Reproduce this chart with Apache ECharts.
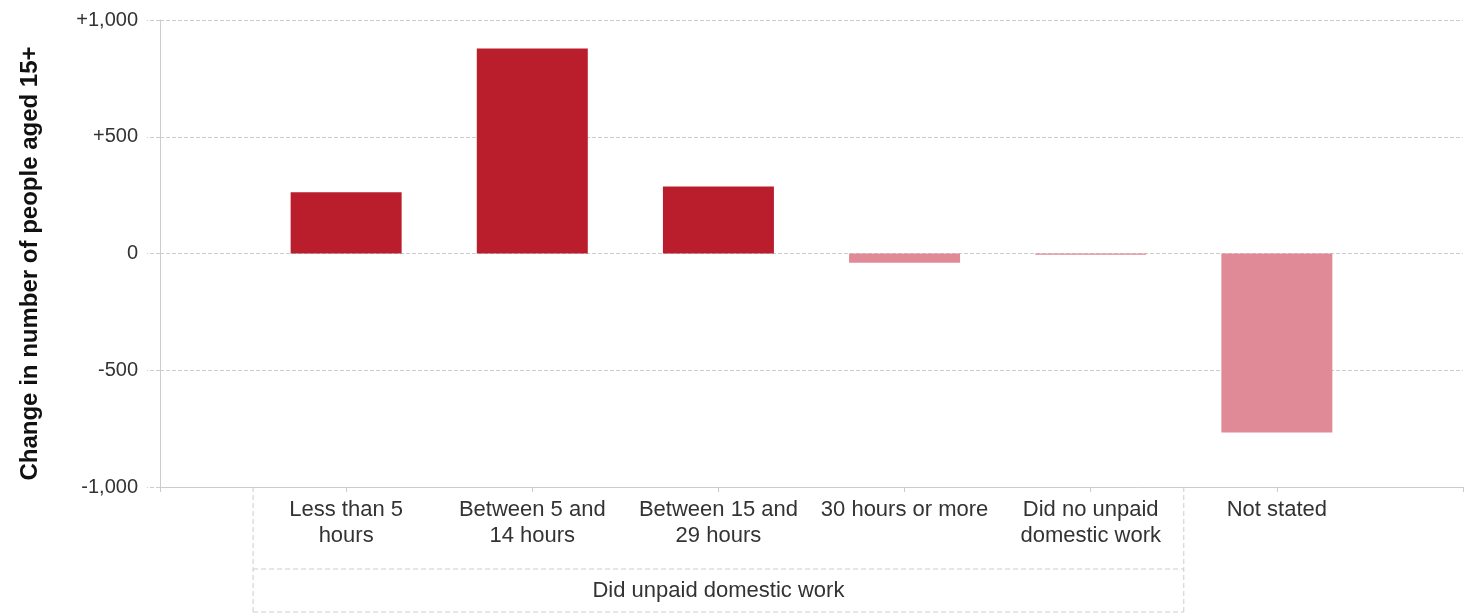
<!DOCTYPE html>
<html>
<head>
<meta charset="UTF-8"/>
<title>Change in unpaid domestic work</title>
<script src="https://cdn.jsdelivr.net/npm/echarts@6/dist/echarts.min.js"></script>
<style>
html,body{margin:0;padding:0;background:#fff;}
#placeholder{width:1470px;height:614px;}
</style>
</head>
<body>
<div id="placeholder"></div>
<script type="text/javascript">
// categories and values
var categories = ['Less than 5\nhours', 'Between 5 and\n14 hours', 'Between 15 and\n29 hours', '30 hours or more', 'Did no unpaid\ndomestic work', 'Not stated'];
var values = [262, 878, 287, -40, -5, -767];
var groupLabel = 'Did unpaid domestic work';
var groupSpan = [0, 4]; // first and last category inside the group box
var yTicks = [-1000, -500, 0, 500, 1000];

// pad one empty slot each side so bars sit on the inner ticks
var xdata = [''].concat(categories).concat(['']);
var ydata = [null].concat(values).concat([null]);

var font = 'Arial, "Liberation Sans", sans-serif';
var myChart = echarts.init(document.getElementById('placeholder'));

var option = {
    animation: false,
    textStyle: { fontFamily: font },
    grid: { left: 160, right: 7, top: 20, bottom: 127 },
    xAxis: {
        type: 'category',
        boundaryGap: false,
        data: xdata,
        axisLine: { onZero: false, lineStyle: { color: '#cccccc', width: 1 } },
        axisTick: { length: 5, lineStyle: { color: '#cccccc' } },
        axisLabel: { interval: 0, fontSize: 22, lineHeight: 26, color: '#333', margin: 10, fontFamily: font },
        splitLine: { show: false }
    },
    yAxis: {
        type: 'value',
        min: yTicks[0],
        max: yTicks[yTicks.length - 1],
        interval: 500,
        name: 'Change in number of people aged 15+',
        nameLocation: 'middle',
        nameGap: 118,
        nameTextStyle: { fontSize: 24, fontWeight: 'bold', color: '#111', fontFamily: font, padding: [0, 20, 0, 0] },
        axisLine: { show: true, lineStyle: { color: '#cccccc' } },
        axisTick: { show: true, length: 13, lineStyle: { color: '#cccccc', type: 'dashed' } },
        axisLabel: {
            fontSize: 20, color: '#333', margin: 22, fontFamily: font,
            formatter: function (v) {
                var s = Math.abs(v).toLocaleString('en-US');
                return v > 0 ? '+' + s : (v < 0 ? '-' + s : '0');
            }
        },
        splitLine: { lineStyle: { color: '#cccccc', type: 'dashed' } }
    },
    series: [{
        type: 'bar',
        data: ydata,
        barWidth: 111,
        itemStyle: {
            color: function (p) { return p.value >= 0 ? '#ba1e2d' : '#e08997'; }
        }
    }]
};
myChart.setOption(option, true);

// group box under the category labels
var a = myChart.convertToPixel({ xAxisIndex: 0 }, groupSpan[0] + 1);
var b = myChart.convertToPixel({ xAxisIndex: 0 }, groupSpan[0] + 2);
var step = b - a;
var x0 = a - step / 2;
var x1 = myChart.convertToPixel({ xAxisIndex: 0 }, groupSpan[1] + 1) + step / 2;
var yAxisPx = myChart.convertToPixel({ yAxisIndex: 0 }, yTicks[0]);
var yMid = yAxisPx + 82, yBot = 612;
var dash = { stroke: '#cccccc', lineWidth: 1, lineDash: [5, 3] };
myChart.setOption({
    graphic: [
        { type: 'line', shape: { x1: x0, y1: yAxisPx, x2: x0, y2: yBot }, style: dash, silent: true },
        { type: 'line', shape: { x1: x1, y1: yAxisPx, x2: x1, y2: yBot }, style: dash, silent: true },
        { type: 'line', shape: { x1: x0, y1: yMid, x2: x1, y2: yMid }, style: dash, silent: true },
        { type: 'line', shape: { x1: x0, y1: yBot, x2: x1, y2: yBot }, style: dash, silent: true },
        { type: 'text', x: (x0 + x1) / 2, y: (yMid + yBot) / 2, style: { text: groupLabel, fill: '#333', font: '22px ' + font, textAlign: 'center', textVerticalAlign: 'middle' }, silent: true }
    ]
});
</script>
</body>
</html>
